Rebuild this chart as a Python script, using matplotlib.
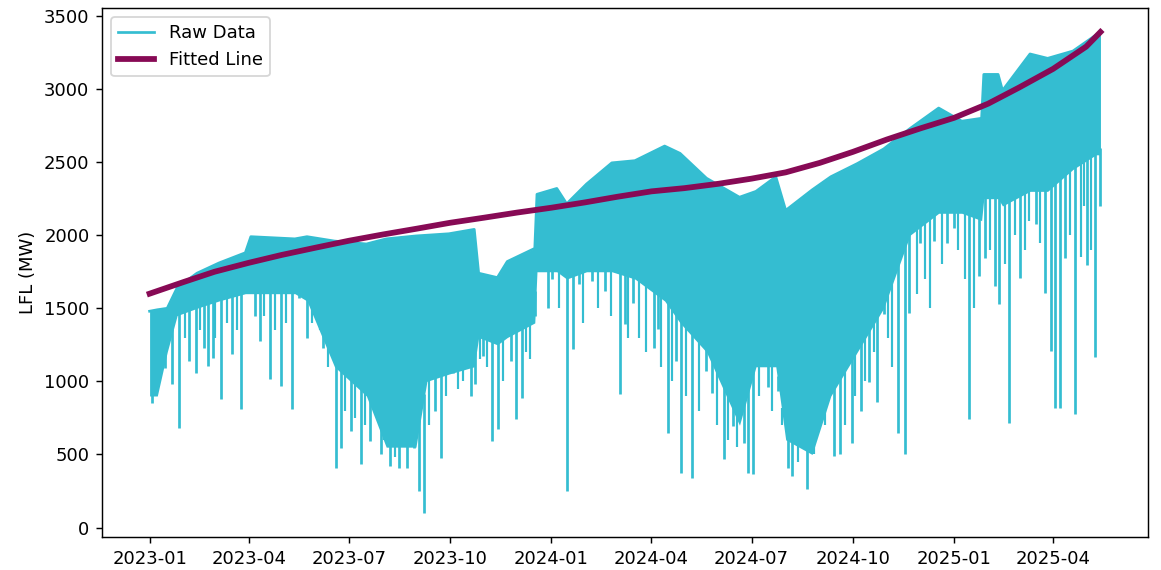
import matplotlib
matplotlib.use("Agg")
import matplotlib.pyplot as plt
import matplotlib.dates as mdates
import numpy as np
import pandas as pd

# .. raw LFL trace: upper edge and floor of the dense band ..
env_dates = ["2023-01-01", "2023-01-08", "2023-01-17", "2023-01-26", "2023-02-13",
             "2023-03-05", "2023-03-29", "2023-04-03", "2023-05-13", "2023-05-24",
             "2023-06-18", "2023-07-17", "2023-08-04", "2023-08-31", "2023-09-10",
             "2023-09-30", "2023-10-23", "2023-10-27", "2023-11-13", "2023-11-22",
             "2023-12-17", "2023-12-19", "2024-01-06", "2024-01-15", "2024-02-02",
             "2024-02-25", "2024-03-17", "2024-04-13", "2024-04-27", "2024-05-21",
             "2024-06-20", "2024-07-05", "2024-07-23", "2024-08-01", "2024-08-25",
             "2024-09-11", "2024-10-05", "2024-10-29", "2024-11-22", "2024-12-18",
             "2025-01-08", "2025-01-26", "2025-01-28", "2025-02-10", "2025-02-14",
             "2025-03-11", "2025-03-27", "2025-04-19", "2025-05-10", "2025-05-14"]
env_top = [1480, 1490, 1500, 1640, 1740, 1810, 1880, 1990, 1975, 1990,
           1960, 1940, 1975, 1995, 2000, 2010, 2040, 1740, 1710, 1820,
           1910, 2280, 2320, 2215, 2350, 2495, 2510, 2610, 2560, 2390,
           2260, 2300, 2400, 2170, 2310, 2400, 2490, 2590, 2730, 2870,
           2780, 2800, 3100, 3100, 2990, 3240, 3210, 3260, 3370, 3390]
env_low = [900, 900, 1200, 1450, 1500, 1550, 1600, 1600, 1600, 1550,
           1100, 900, 550, 550, 1000, 1050, 1100, 1300, 1250, 1300,
           1400, 1750, 1750, 1700, 1750, 1750, 1700, 1550, 1400, 1200,
           700, 1100, 1100, 600, 500, 900, 1200, 1500, 2000, 2150,
           2150, 2100, 2250, 2250, 2200, 2300, 2300, 2450, 2550, 2550]

# .. deep single-day drops below the band ..
dip_dates = ["2023-01-03", "2023-01-15", "2023-01-21", "2023-01-28", "2023-02-06",
             "2023-02-12", "2023-02-19", "2023-02-23", "2023-02-28", "2023-03-07",
             "2023-03-17", "2023-03-25", "2023-04-07", "2023-04-11", "2023-04-20",
             "2023-04-30", "2023-05-10", "2023-05-17", "2023-05-24", "2023-06-01",
             "2023-06-08", "2023-06-19", "2023-06-24", "2023-07-03", "2023-07-12",
             "2023-07-20", "2023-07-26", "2023-07-30", "2023-08-07", "2023-08-16",
             "2023-08-23", "2023-08-29", "2023-09-03", "2023-09-07", "2023-09-17",
             "2023-09-23", "2023-10-04", "2023-10-20", "2023-10-24", "2023-10-31",
             "2023-11-08", "2023-11-14", "2023-11-25", "2023-11-30", "2023-12-05",
             "2023-12-17", "2023-12-29", "2024-01-02", "2024-01-15", "2024-01-21",
             "2024-01-26", "2024-02-07", "2024-02-19", "2024-03-03", "2024-03-08",
             "2024-03-15", "2024-04-03", "2024-04-07", "2024-04-16", "2024-04-23",
             "2024-04-28", "2024-05-08", "2024-05-21", "2024-05-26", "2024-06-06",
             "2024-06-14", "2024-06-24", "2024-06-28", "2024-07-02", "2024-07-16",
             "2024-07-25", "2024-08-03", "2024-08-07", "2024-08-20", "2024-09-01",
             "2024-09-14", "2024-09-19", "2024-09-30", "2024-10-08", "2024-10-16",
             "2024-10-23", "2024-10-29", "2024-11-11", "2024-11-17", "2024-11-21",
             "2024-12-01", "2024-12-14", "2024-12-26", "2025-01-01", "2025-01-15",
             "2025-01-24", "2025-01-29", "2025-02-07", "2025-02-11", "2025-02-20",
             "2025-03-02", "2025-03-16", "2025-03-25", "2025-03-30", "2025-04-03",
             "2025-04-07", "2025-04-12", "2025-04-21", "2025-05-02", "2025-05-09",
             "2025-05-14"]
dip_vals = [850, 1094, 984, 684, 1142, 1060, 1230, 1107, 1162, 882,
            1189, 813, 1449, 1278, 1018, 971, 813, 1572, 1299, 1463,
            1230, 410, 547, 663, 437, 595, 984, 506, 424, 410,
            410, 547, 253, 100, 800, 479, 1060, 902, 984, 1176,
            595, 677, 1142, 745, 885, 1620, 1504, 1702, 253, 1224,
            1668, 1688, 1620, 916, 1395, 1535, 1230, 1360, 649, 1142,
            376, 342, 1073, 923, 472, 697, 581, 376, 369, 964,
            937, 410, 355, 267, 848, 492, 506, 581, 800, 998,
            860, 1463, 649, 500, 1470, 1948, 1962, 1948, 2051, 745,
            1723, 1846, 1654, 1531, 715, 1709, 2078, 1606, 1210, 820,
            820, 1846, 779, 1798, 1170, 2200]

# .. shallower drops that roughen the floor of the band ..
minor_dates = ["2023-01-10", "2023-02-02", "2023-02-16", "2023-03-01", "2023-03-12",
               "2023-03-21", "2023-04-15", "2023-04-25", "2023-05-05", "2023-05-29",
               "2023-06-05", "2023-06-12", "2023-06-28", "2023-07-07", "2023-07-16",
               "2023-08-02", "2023-08-12", "2023-09-12", "2023-09-27", "2023-10-08",
               "2023-10-13", "2023-10-28", "2023-11-04", "2023-11-18", "2023-12-09",
               "2023-12-13", "2024-01-08", "2024-01-30", "2024-02-12", "2024-02-24",
               "2024-03-11", "2024-03-21", "2024-03-27", "2024-04-10", "2024-04-20",
               "2024-05-02", "2024-05-14", "2024-05-31", "2024-06-10", "2024-06-18",
               "2024-07-08", "2024-07-20", "2024-07-29", "2024-08-12", "2024-08-27",
               "2024-09-06", "2024-09-24", "2024-10-03", "2024-10-12", "2024-10-20",
               "2024-11-02", "2024-11-06", "2024-11-28", "2024-12-06", "2024-12-10",
               "2024-12-21", "2025-01-05", "2025-01-11", "2025-01-19", "2025-02-03",
               "2025-02-16", "2025-02-25", "2025-03-06", "2025-03-10", "2025-03-20",
               "2025-04-16", "2025-04-26", "2025-04-29", "2025-05-05"]
minor_vals = [1100, 1300, 1350, 1300, 1400, 1350, 1450, 1350, 1400, 1400,
              1350, 1100, 800, 750, 700, 600, 480, 700, 900, 950,
              1000, 1150, 1100, 1000, 1200, 1150, 1500, 1400, 1500, 1450,
              1300, 1300, 1200, 1100, 1000, 900, 800, 700, 600, 550,
              900, 800, 700, 450, 500, 700, 700, 900, 1000, 1200,
              1300, 1100, 1600, 1700, 1500, 1800, 1900, 1700, 1500, 1900,
              1800, 2000, 1900, 2100, 1950, 2000, 1850, 2200, 1900]

# .. fitted trend line ..
fit_dates = ["2023-01-01", "2023-02-01", "2023-03-01", "2023-04-01", "2023-05-01",
             "2023-06-01", "2023-07-01", "2023-08-01", "2023-09-01", "2023-10-01",
             "2023-11-01", "2023-12-01", "2024-01-01", "2024-02-01", "2024-03-01",
             "2024-04-01", "2024-05-01", "2024-06-01", "2024-07-01", "2024-08-01",
             "2024-09-01", "2024-10-01", "2024-11-01", "2024-12-01", "2025-01-01",
             "2025-02-01", "2025-03-01", "2025-04-01", "2025-05-01", "2025-05-14"]
fit_vals = [1600, 1680, 1750, 1811, 1865, 1915, 1962, 2005, 2045, 2085,
            2120, 2155, 2188, 2225, 2263, 2300, 2322, 2352, 2387, 2430,
            2495, 2570, 2655, 2730, 2803, 2900, 3010, 3138, 3290, 3390]

raw_color = "#34bdd1"
fit_color = "#870a55"

fig = plt.figure(figsize=(1161 / 130, 570 / 130), dpi=130)
ax = fig.add_axes([0.0879, 0.0579, 0.9009, 0.9281])

env_dt = pd.to_datetime(env_dates)
env_num = mdates.date2num(env_dt)

ax.fill_between(env_dt, env_low, env_top, color=raw_color, lw=0)
ax.plot(env_dt, env_top, color=raw_color, lw=1.5, label="Raw Data")

# drops hang from the floor of the band
for d, v, lw in [(dip_dates, dip_vals, 1.5), (minor_dates, minor_vals, 1.2)]:
    d = pd.to_datetime(d)
    top = np.interp(mdates.date2num(d), env_num, env_low) + 50
    ax.vlines(d, v, top, color=raw_color, lw=lw)

ax.plot(pd.to_datetime(fit_dates), fit_vals, color=fit_color, lw=3.2,
        label="Fitted Line", zorder=3)

ax.xaxis.set_major_locator(mdates.MonthLocator(bymonth=[1, 4, 7, 10]))
ax.xaxis.set_major_formatter(mdates.DateFormatter("%Y-%m"))
ax.set_ylabel("LFL (MW)")
ax.legend(loc="upper left")

fig.savefig("out.png", dpi=130)
